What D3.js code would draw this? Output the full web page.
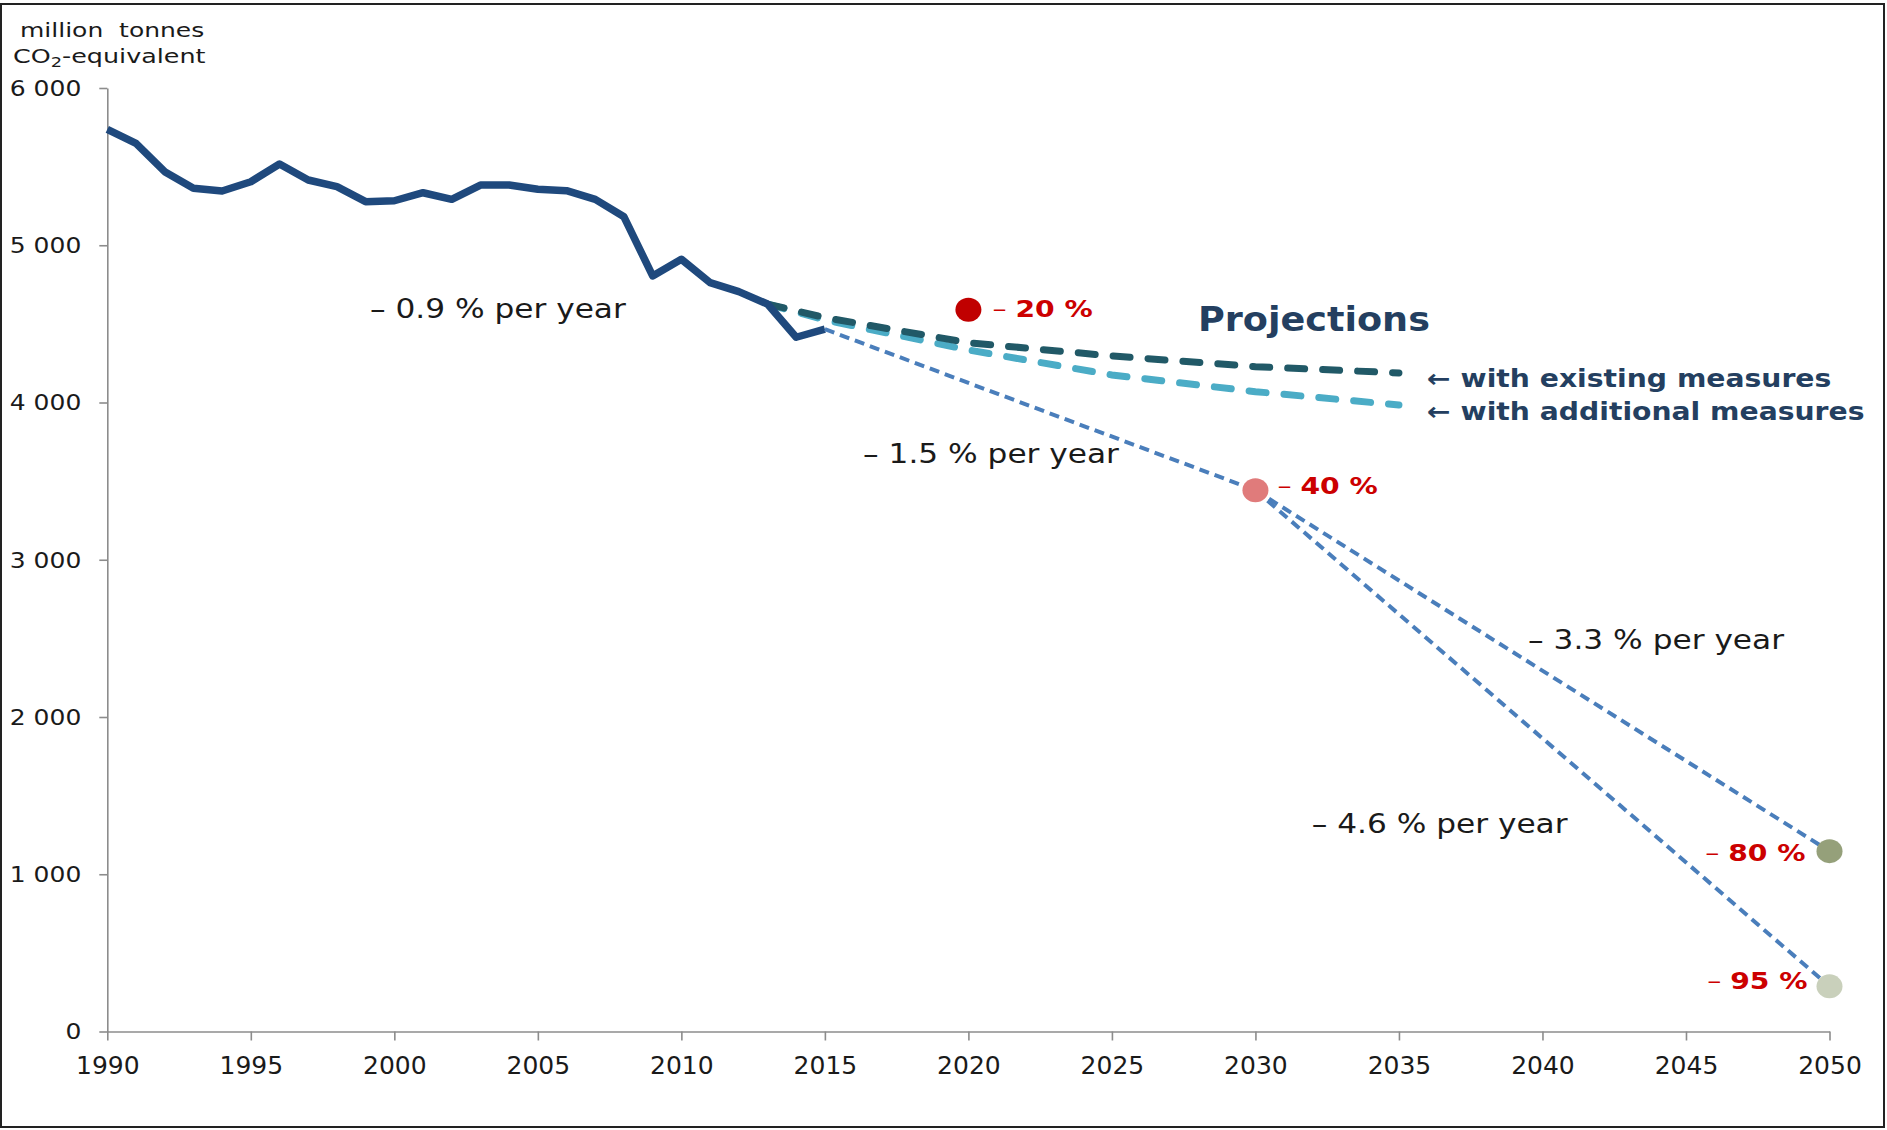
<!DOCTYPE html>
<html>
<head>
<meta charset="utf-8">
<script src="https://cdn.jsdelivr.net/npm/d3@7"></script>
<style>
  html, body { margin: 0; padding: 0; background: #fff; }
  svg { display: block; }
  text { font-family: "DejaVu Sans", Verdana, sans-serif; }
</style>
</head>
<body>
<script>
// ---------------- DATA ----------------
const years = [1990,1991,1992,1993,1994,1995,1996,1997,1998,1999,2000,2001,2002,2003,2004,2005,2006,2007,2008,2009,2010,2011,2012,2013,2014,2015];
const emissions = [5737,5648,5468,5362,5345,5404,5517,5415,5373,5277,5283,5334,5292,5383,5383,5356,5347,5292,5181,4805,4911,4762,4705,4626,4415,4466];

const projYears = [2013,2015,2020,2025,2030,2035];
const withExisting = [4626,4540,4380,4296,4228,4188];
const withAdditional = [4626,4525,4334,4175,4069,3984];

const targetYears = [2020,2030,2050,2050];
const targetValues = [4590,3442,1147,287];
const targetLabels = ["20 %","40 %","80 %","95 %"];

const pathYears1 = [2015,2030], pathValues1 = [4466,3442];
const pathYears2 = [2030,2050], pathValues2 = [3442,1147];
const pathYears3 = [2030,2050], pathValues3 = [3442,287];

const rateLabels = ["– 0.9 % per year","– 1.5 % per year","– 3.3 % per year","– 4.6 % per year"];
const rateYears = [1999.15,2016.33,2039.5,2031.96];
const rateValues = [4537,3617,2435,1264];

const xTicks = [1990,1995,2000,2005,2010,2015,2020,2025,2030,2035,2040,2045,2050];
const yTicks = [0,1000,2000,3000,4000,5000,6000];

const legendLabels = ["← with existing measures","← with additional measures"];
const legendYear = 2035.98;
const legendValues = [4097,3889];
const projTitle = "Projections";
const projTitleYear = 2028.0, projTitleValue = 4457;

// ---------------- LAYOUT / STYLE ----------------
const W = 1887, H = 1130;
const xL = 107.3, xR = 1829.5, yT = 88, yB = 1031.5;
const targetColors = ["#c00000","#e07b7b","#95a07a","#c9d0bb"];
const targetLabelOffsets = [[24,7,"start"],[22,4,"start"],[-24,10,"end"],[-22,3,"end"]];
const navy = "#243f60";

const svg = d3.select("body").append("svg").attr("width", W).attr("height", H);

// outer border
svg.append("rect").attr("x",1).attr("y",4).attr("width",1883).attr("height",1123)
  .attr("fill","none").attr("stroke","#222").attr("stroke-width",2);

const x = d3.scaleLinear().domain([1990,2050]).range([xL,xR]);
const y = d3.scaleLinear().domain([0,6000]).range([yB,yT]);

function stext(g, px, py, txt, size, sx, opts = {}) {
  const t = g.append("text")
    .attr("transform", `translate(${px},${py}) scale(${sx},1)`)
    .attr("font-size", size)
    .attr("font-weight", opts.weight || "normal")
    .attr("fill", opts.fill || "#1a1a1a")
    .attr("text-anchor", opts.anchor || "start")
    .text(txt);
  return t;
}

// axes
const yAxis = svg.append("g").attr("transform", `translate(${xL},0)`)
  .call(d3.axisLeft(y).tickValues(yTicks).tickSize(8).tickSizeOuter(0)
    .tickFormat(d => d === 0 ? "0" : d3.format(",")(d).replace(",", " ")));
yAxis.select(".domain").attr("stroke","#8c8c8c").attr("stroke-width",1.6);
yAxis.selectAll(".tick line").attr("stroke","#8c8c8c").attr("stroke-width",1.6);
yAxis.selectAll(".tick text")
  .attr("font-family","DejaVu Sans, Verdana, sans-serif")
  .attr("font-size",20.5).attr("fill","#1a1a1a")
  .attr("x", -26/1.22).attr("dy","0.36em")
  .attr("transform","scale(1.22,1)");

const xAxis = svg.append("g").attr("transform", `translate(0,${yB})`)
  .call(d3.axisBottom(x).tickValues(xTicks).tickSize(9).tickSizeOuter(0).tickFormat(d3.format("d")));
xAxis.select(".domain").attr("stroke","#8c8c8c").attr("stroke-width",1.6);
xAxis.selectAll(".tick line").attr("stroke","#8c8c8c").attr("stroke-width",1.6);
xAxis.selectAll(".tick text")
  .attr("font-family","DejaVu Sans, Verdana, sans-serif")
  .attr("font-size",25).attr("fill","#1a1a1a")
  .attr("y", 42.5).attr("dy", null);

// y-axis title
const t1 = stext(svg, 20, 36.5, "million  tonnes", 20, 1.25);
t1.attr("xml:space","preserve").style("white-space","pre");
const t2 = svg.append("text")
  .attr("transform","translate(13,63) scale(1.27,1)")
  .attr("font-size",20).attr("fill","#1a1a1a");
t2.append("tspan").text("CO");
t2.append("tspan").attr("font-size",14).attr("dy",4).text("2");
t2.append("tspan").attr("dy",-4).text("-equivalent");

const line = d3.line().x(d => x(d[0])).y(d => y(d[1]));

// projections
svg.append("path").datum(projYears.map((yr,i)=>[yr,withAdditional[i]]))
  .attr("d", line).attr("fill","none").attr("stroke","#4bacc6")
  .attr("stroke-width",7).attr("stroke-linecap","round").attr("stroke-dasharray","17,18");
svg.append("path").datum(projYears.map((yr,i)=>[yr,withExisting[i]]))
  .attr("d", line).attr("fill","none").attr("stroke","#215967")
  .attr("stroke-width",7).attr("stroke-linecap","round").attr("stroke-dasharray","17,18");

// historical
svg.append("path").datum(years.map((yr,i)=>[yr,emissions[i]]))
  .attr("d", line).attr("fill","none").attr("stroke","#1f497d")
  .attr("stroke-width",7.5).attr("stroke-linejoin","round");

// target pathways
[[pathYears1,pathValues1],[pathYears2,pathValues2],[pathYears3,pathValues3]].forEach(([ys,vs]) => {
  svg.append("path").datum(ys.map((yr,i)=>[yr,vs[i]]))
    .attr("d", line).attr("fill","none").attr("stroke","#4a7ebb")
    .attr("stroke-width",4).attr("stroke-dasharray","10,6");
});

// target dots + labels
targetYears.forEach((yr,i) => {
  svg.append("ellipse").attr("cx", x(yr)).attr("cy", y(targetValues[i]))
    .attr("rx",13).attr("ry",12).attr("fill", targetColors[i]);
  const [dx,dy,anchor] = targetLabelOffsets[i];
  const t = svg.append("text")
    .attr("transform", `translate(${x(yr)+dx},${y(targetValues[i])+dy}) scale(1.2,1)`)
    .attr("font-size", 23.5).attr("fill", "#cc0000").attr("text-anchor", anchor);
  t.append("tspan").attr("font-weight","normal").text("– ");
  t.append("tspan").attr("font-weight","bold").text(targetLabels[i]);
});

// rate labels
rateLabels.forEach((lab,i) => {
  stext(svg, x(rateYears[i]), y(rateValues[i]), lab, 26, 1.2);
});

// projections title & legend
stext(svg, x(projTitleYear), y(projTitleValue), projTitle, 34, 1.076, {weight:"bold", fill:navy});
legendLabels.forEach((lab,i) => {
  stext(svg, x(legendYear), y(legendValues[i]), lab, 25, 1.13, {weight:"bold", fill:navy});
});
</script>
</body>
</html>
